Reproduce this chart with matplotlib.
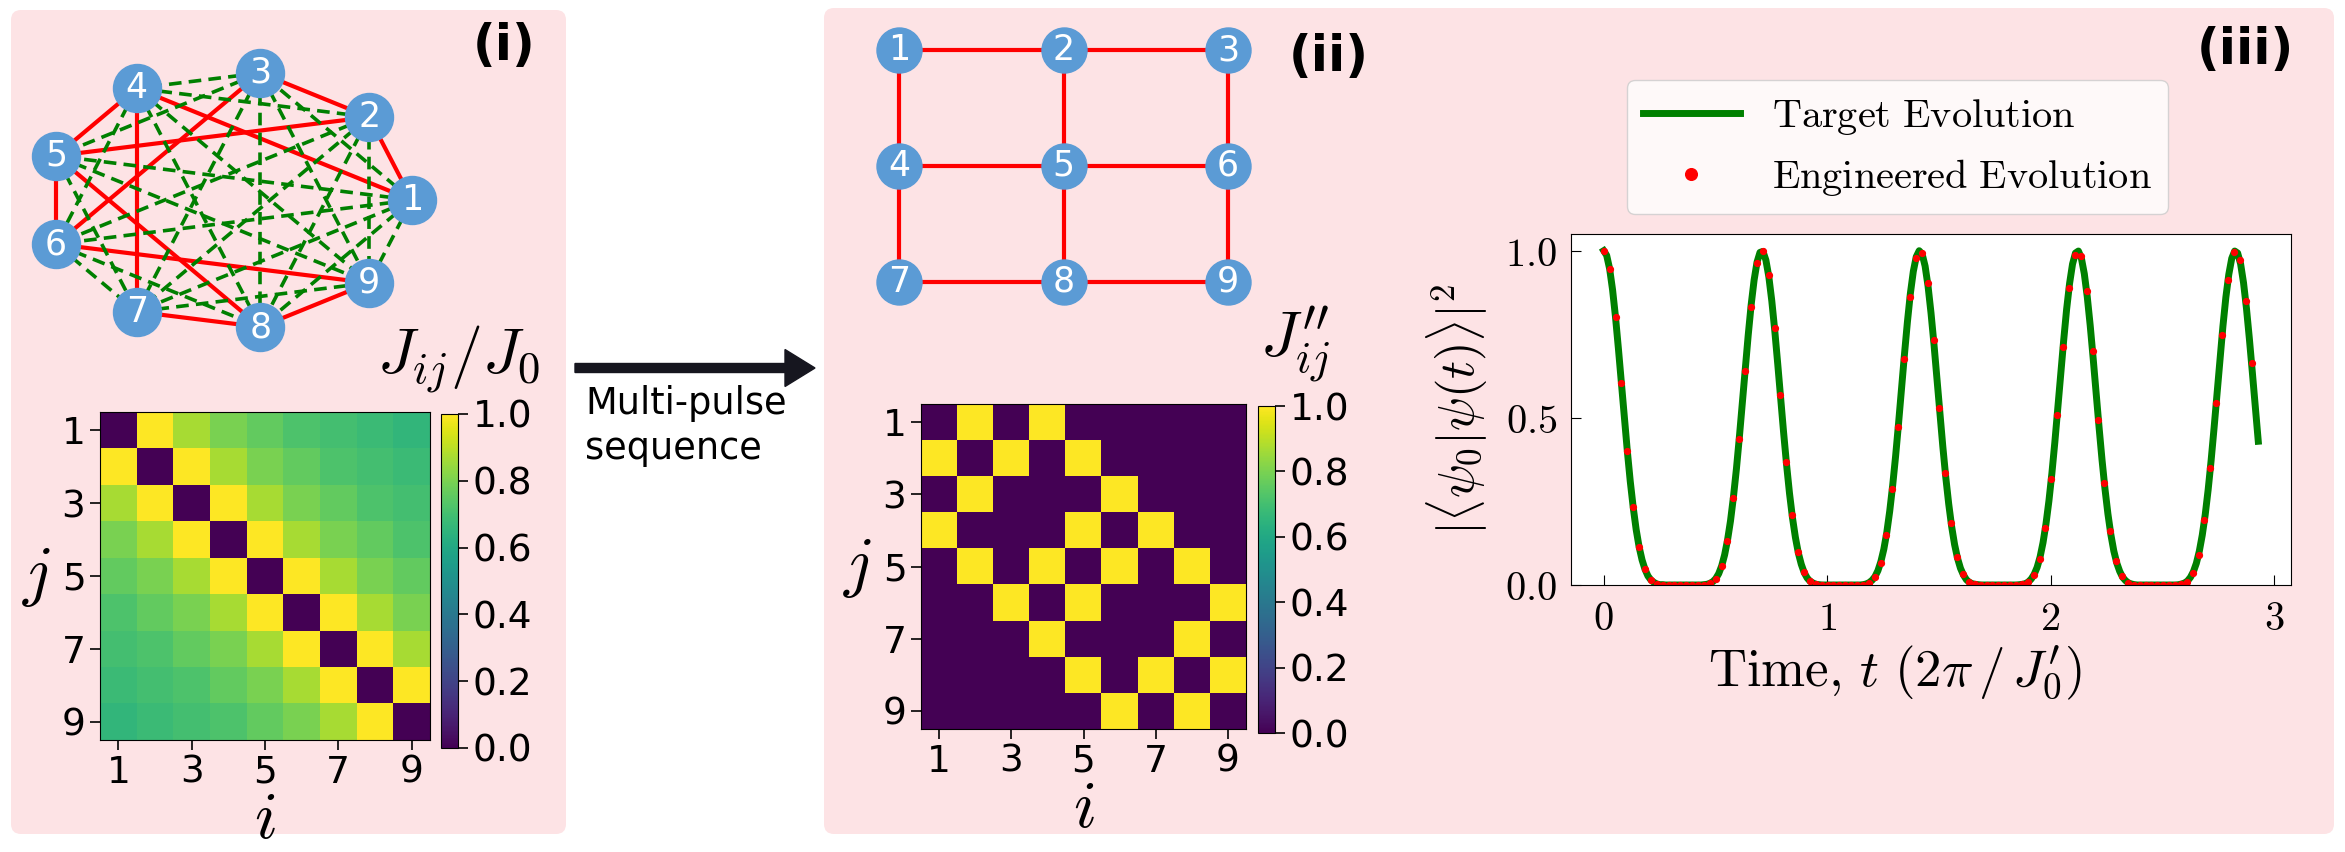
import numpy as np
import matplotlib
matplotlib.use('Agg')
import matplotlib.pyplot as plt
from matplotlib.patches import FancyBboxPatch, FancyArrow

plt.rcParams['mathtext.fontset'] = 'cm'
plt.rcParams['font.family'] = 'DejaVu Sans'

W, H = 2345, 852

# 9 spins, and the nearest-neighbour bonds of the 3x3 lattice
nodes = list(range(1, 10))
lattice_bonds = [(1, 2), (2, 3), (4, 5), (5, 6), (7, 8), (8, 9),
                 (1, 4), (4, 7), (2, 5), (5, 8), (3, 6), (6, 9)]

# native coupling J_ij/J_0, by distance |i-j| = 0..8
native_coupling = [0.0, 1.0, 0.87, 0.80, 0.76, 0.72, 0.70, 0.68, 0.66]

# return probability, panel (iii)
target = [
    1.000, 0.986, 0.946, 0.883, 0.801, 0.705, 0.603, 0.500, 0.401, 0.310,
    0.232, 0.166, 0.114, 0.075, 0.047, 0.027, 0.015, 0.008, 0.003, 0.001,
    0.001, 0.000, 0.000, 0.000, 0.000, 0.000, 0.000, 0.000, 0.000, 0.000,
    0.000, 0.000, 0.000, 0.000, 0.001, 0.002, 0.005, 0.010, 0.019, 0.034,
    0.057, 0.090, 0.135, 0.192, 0.264, 0.347, 0.442, 0.543, 0.647, 0.747,
    0.838, 0.912, 0.966, 0.995, 0.998, 0.972, 0.922, 0.850, 0.762, 0.663,
    0.559, 0.457, 0.361, 0.275, 0.202, 0.143, 0.096, 0.062, 0.037, 0.021,
    0.011, 0.006, 0.002, 0.001, 0.000, 0.000, 0.000, 0.000, 0.000, 0.000,
    0.000, 0.000, 0.000, 0.000, 0.000, 0.000, 0.000, 0.000, 0.001, 0.003,
    0.007, 0.014, 0.025, 0.043, 0.070, 0.107, 0.157, 0.221, 0.298, 0.386,
    0.484, 0.587, 0.690, 0.787, 0.872, 0.938, 0.982, 1.000, 0.990, 0.954,
    0.894, 0.814, 0.721, 0.619, 0.515, 0.415, 0.323, 0.243, 0.175, 0.121,
    0.080, 0.050, 0.030, 0.016, 0.008, 0.004, 0.002, 0.001, 0.000, 0.000,
    0.000, 0.000, 0.000, 0.000, 0.000, 0.000, 0.000, 0.000, 0.000, 0.000,
    0.000, 0.001, 0.002, 0.004, 0.009, 0.018, 0.032, 0.053, 0.084, 0.127,
    0.183, 0.252, 0.334, 0.427, 0.528, 0.631, 0.732, 0.825, 0.902, 0.960,
    0.993, 0.999, 0.978, 0.931, 0.862, 0.776, 0.678, 0.575, 0.472, 0.375,
    0.288, 0.213, 0.151, 0.102, 0.066, 0.041, 0.023, 0.013, 0.006, 0.003,
    0.001, 0.000, 0.000, 0.000, 0.000, 0.000, 0.000, 0.000, 0.000, 0.000,
    0.000, 0.000, 0.000, 0.000, 0.000, 0.001, 0.003, 0.006, 0.012, 0.023,
    0.040, 0.065, 0.101, 0.149, 0.210, 0.285, 0.372, 0.469, 0.571, 0.675,
    0.773, 0.860, 0.929, 0.977, 0.999, 0.993, 0.961, 0.904, 0.827, 0.735,
    0.635, 0.531, 0.430,
]
engineered = [
    1.000, 0.946, 0.801, 0.604, 0.402, 0.233, 0.115, 0.047, 0.015, 0.004,
    0.001, 0.000, 0.000, 0.000, 0.000, 0.000, 0.000, 0.001, 0.005, 0.019,
    0.056, 0.132, 0.259, 0.436, 0.641, 0.832, 0.964, 0.998, 0.926, 0.768,
    0.567, 0.368, 0.208, 0.099, 0.039, 0.012, 0.003, 0.000, 0.000, 0.000,
    0.000, 0.000, 0.000, 0.000, 0.001, 0.006, 0.023, 0.066, 0.151, 0.288,
    0.472, 0.677, 0.862, 0.978, 0.993, 0.903, 0.734, 0.530, 0.336, 0.184,
    0.085, 0.032, 0.009, 0.002, 0.000, 0.000, 0.000, 0.000, 0.000, 0.000,
    0.000, 0.002, 0.008, 0.029, 0.078, 0.171, 0.317, 0.508, 0.713, 0.889,
    0.988, 0.984, 0.878, 0.699, 0.493, 0.305, 0.163, 0.073, 0.026, 0.007,
    0.001, 0.000, 0.000, 0.000, 0.000, 0.000, 0.000, 0.000, 0.002, 0.010,
    0.035, 0.091, 0.194, 0.349, 0.545, 0.748, 0.913, 0.996, 0.972, 0.850,
    0.663,
]
# uniform time grids (units of 2pi/J0')
t_target = np.linspace(0, 2.93, len(target))
t_engineered = np.linspace(0, 2.9, len(engineered))

pink = '#fde3e5'
node_blue = '#5b9bd5'

fig = plt.figure(figsize=(W / 100, H / 100), dpi=100)


def px_axes(x0, y0, x1, y1, **kw):
    # axes placed by pixel box (left, top, right, bottom) measured from the top-left
    return fig.add_axes([x0 / W, 1 - y1 / H, (x1 - x0) / W, (y1 - y0) / H], **kw)


# background panels, arrow and free texts
bg = px_axes(0, 0, W, H, zorder=-1)
bg.set_xlim(0, W)
bg.set_ylim(H, 0)
bg.axis('off')
for x0, y0, x1, y1 in [(11, 10, 566, 834), (824, 8, 2334, 834)]:
    bg.add_patch(FancyBboxPatch((x0, y0), x1 - x0, y1 - y0,
                                boxstyle='round,pad=0,rounding_size=10', fc=pink, ec='none'))
bg.add_patch(FancyArrow(575, 368, 240, 0, width=9, head_width=37, head_length=30,
                        length_includes_head=True, color='#16161f'))
bg.text(585, 426, 'Multi-pulse\nsequence', fontsize=26.5, va='center', ha='left', linespacing=1.25)
bg.text(504, 46, '(i)', fontsize=36, fontweight='bold', ha='center', va='center')
bg.text(1329, 57, '(ii)', fontsize=36, fontweight='bold', ha='center', va='center')
bg.text(2245, 50, '(iii)', fontsize=36, fontweight='bold', ha='center', va='center')
bg.text(459, 360, r'$J_{ij}/J_0$', fontsize=46, ha='center', va='center')
bg.text(1295, 345, r'$J^{\prime\prime}_{ij}$', fontsize=46, ha='center', va='center')


def draw_graph(ax, pos, size, fs, all_to_all):
    for a in nodes:
        for b in nodes:
            if a >= b:
                continue
            xa, ya = pos[a]
            xb, yb = pos[b]
            if (a, b) in lattice_bonds:
                ax.plot([xa, xb], [ya, yb], color='red', lw=3, zorder=1, clip_on=False)
            elif all_to_all:
                ax.plot([xa, xb], [ya, yb], color='green', lw=2.6, ls=(0, (3.5, 2)),
                        zorder=2, clip_on=False)
    for n in nodes:
        ax.scatter(*pos[n], s=size, color=node_blue, zorder=3, clip_on=False)
        ax.text(*pos[n], str(n), color='white', fontsize=fs, ha='center', va='center', zorder=4)


# (i) all-to-all graph on a circular layout
g1 = px_axes(45, 71, 412, 329)
g1.set_xlim(-1, 1)
g1.set_ylim(-1, 1)
g1.axis('off')
ang = 2 * np.pi * (np.array(nodes) - 1) / 9
pos1 = {n: (np.cos(a), np.sin(a)) for n, a in zip(nodes, ang)}
draw_graph(g1, pos1, 1195, 25, True)

# (ii) square lattice
g2 = px_axes(899, 50, 1228, 282)
g2.set_xlim(0, 2)
g2.set_ylim(2, 0)
g2.axis('off')
pos2 = {n: ((n - 1) % 3, (n - 1) // 3) for n in nodes}
draw_graph(g2, pos2, 1050, 25, False)

# coupling matrices
idx = np.arange(9)
J_native = np.array(native_coupling)[np.abs(idx[:, None] - idx[None, :])]
J_eng = np.zeros((9, 9))
for a, b in lattice_bonds:
    J_eng[a - 1, b - 1] = J_eng[b - 1, a - 1] = 1


def heatmap(box, cbox, M):
    ax = px_axes(*box)
    im = ax.imshow(M, cmap='viridis', vmin=0, vmax=1, extent=(0.5, 9.5, 9.5, 0.5), aspect='auto')
    ax.set_xticks([1, 3, 5, 7, 9])
    ax.set_yticks([1, 3, 5, 7, 9])
    ax.tick_params(labelsize=27, length=7, width=1.2)
    ax.set_xlabel(r'$i$', fontsize=48, labelpad=-3)
    ax.set_ylabel(r'$j$', fontsize=48, rotation=0, labelpad=18, va='center')
    cax = px_axes(*cbox)
    cb = fig.colorbar(im, cax=cax, ticks=[0, 0.2, 0.4, 0.6, 0.8, 1.0])
    cb.ax.tick_params(labelsize=27, length=7, width=1.2)
    cb.ax.set_yticklabels(['0.0', '0.2', '0.4', '0.6', '0.8', '1.0'])
    return ax


heatmap((100, 412, 430, 740), (441, 414, 458, 748), J_native)
heatmap((921, 404, 1246, 729), (1258, 406, 1275, 733), J_eng)

# (iii) return probability
ax = px_axes(1571, 234, 2291, 585)
ax.plot(t_target, target, color='green', lw=5, label=r'$\mathrm{Target\ Evolution}$')
ax.plot(t_engineered, engineered, 'o', color='red', ms=4.2, label=r'$\mathrm{Engineered\ Evolution}$')
ax.set_ylim(0, 1.05)
ax.set_xticks([0, 1, 2, 3])
ax.set_xticklabels(['$0$', '$1$', '$2$', '$3$'])
ax.set_yticks([0, 0.5, 1.0])
ax.set_yticklabels(['$0.0$', '$0.5$', '$1.0$'])
ax.tick_params(direction='in', labelsize=29, length=7, pad=10)
ax.set_xlabel(r'$\mathrm{Time,}\,t\ (2\pi\,/\,J^{\prime}_0)$', fontsize=38)
ax.xaxis.label.set_va('center')
ax.xaxis.set_label_coords(0.45, -0.25)
ax.set_ylabel(r'$|\langle\psi_0|\psi(t)\rangle|^2$', fontsize=36)
ax.yaxis.label.set_va('center')
ax.yaxis.set_label_coords(-0.158, 0.5)
ax.legend(loc='upper left', bbox_to_anchor=(1627 / W, 1 - 80 / H), bbox_transform=fig.transFigure,
          borderaxespad=0, fontsize=29, handlelength=2.4, handletextpad=0.8, markerscale=2.0)

fig.savefig('out.png', dpi=100)
